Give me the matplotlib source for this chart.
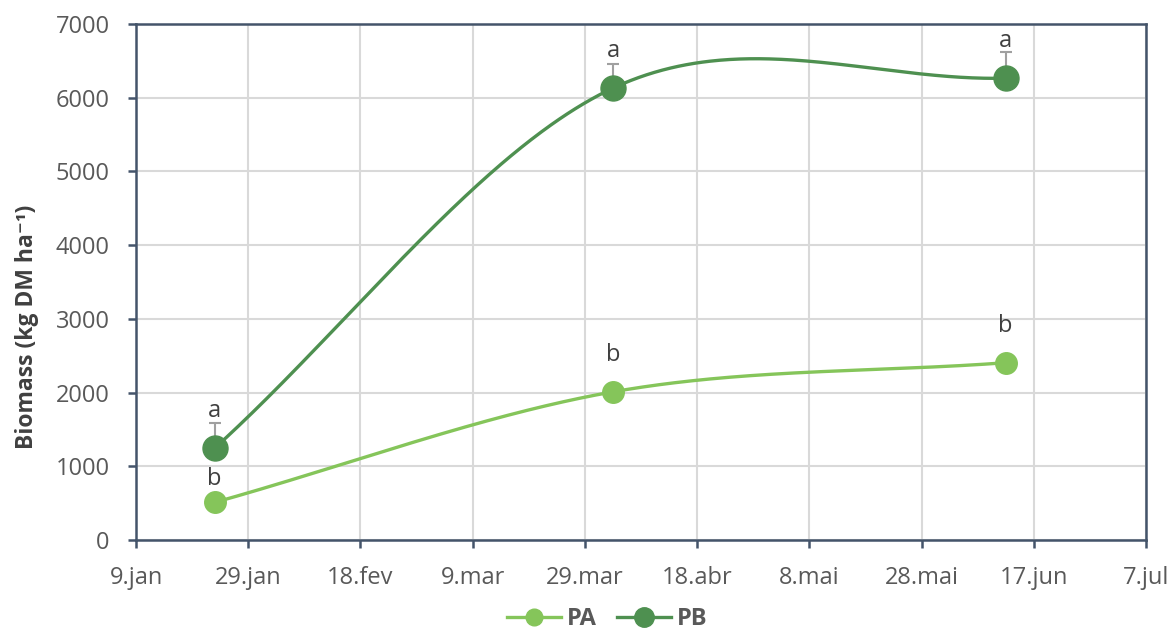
import matplotlib
matplotlib.use("Agg")
import matplotlib.pyplot as plt
import matplotlib.dates as mdates
import numpy as np
from datetime import date, timedelta
from matplotlib.lines import Line2D

# ---------------- data ----------------
sample_dates = [date(2020, 1, 23), date(2020, 4, 3), date(2020, 6, 12)]
pa_values = [510, 2010, 2405]
pb_values = [1245, 6130, 6265]
pb_err_up = [340, 325, 350]
pa_letters = ["b", "b", "b"]
pb_letters = ["a", "a", "a"]
tick_dates = [date(2020, 1, 9) + timedelta(days=20 * i) for i in range(10)]
tick_labels = ["9.jan", "29.jan", "18.fev", "9.mar", "29.mar",
               "18.abr", "8.mai", "28.mai", "17.jun", "7.jul"]
y_ticks = [0, 1000, 2000, 3000, 4000, 5000, 6000, 7000]
series_names = ["PA", "PB"]
y_title = "Biomass (kg DM ha\u207b\u00b9)"

# ---------------- style ----------------
plt.rcParams['font.family'] = ['Open Sans', 'DejaVu Sans']
C_PA = "#85C55A"
C_PB = "#4E9050"
C_AX = "#44546A"
C_TXT = "#595959"
C_GRID = "#D9D9D9"

W_PX, H_PX = 1174, 630
fig = plt.figure(figsize=(W_PX / 100, H_PX / 100), dpi=100)
L, R, T, B = 136, 1146, 24, 540
ax = fig.add_axes([L / W_PX, 1 - B / H_PX, (R - L) / W_PX, (B - T) / H_PX])

x0 = mdates.date2num(tick_dates[0])
x1 = mdates.date2num(tick_dates[-1])
y0, y1 = y_ticks[0], y_ticks[-1]
ax.set_xlim(x0, x1)
ax.set_ylim(y0, y1)
AW, AH = R - L, B - T


def excel_smooth(xd, yd, n=200):
    # Bezier smoothing similar to spreadsheet "smoothed line", done in pixel space
    px = (np.asarray(xd) - x0) / (x1 - x0) * AW
    py = (np.asarray(yd) - y0) / (y1 - y0) * AH
    P = np.column_stack([px, py])
    ext = np.vstack([2 * P[0] - P[1], P, 2 * P[-1] - P[-2]])
    out = []
    t = np.linspace(0, 1, n)[:, None]
    for i in range(len(P) - 1):
        p0, p3 = P[i], P[i + 1]
        c1 = p0 + (ext[i + 2] - ext[i]) / 6.0
        c2 = p3 - (ext[i + 3] - ext[i + 1]) / 6.0
        seg = ((1 - t) ** 3) * p0 + 3 * ((1 - t) ** 2) * t * c1 + 3 * (1 - t) * t ** 2 * c2 + t ** 3 * p3
        out.append(seg)
    out = np.vstack(out)
    xs = out[:, 0] / AW * (x1 - x0) + x0
    ys = out[:, 1] / AH * (y1 - y0) + y0
    return xs, ys


xnum = mdates.date2num(sample_dates)

# grid
ax.set_axisbelow(True)
ax.grid(True, color=C_GRID, linewidth=1.5)

# smoothed lines
xs, ys = excel_smooth(xnum, pa_values)
ax.plot(xs, ys, color=C_PA, lw=2.4, zorder=3, solid_capstyle='round')
xs, ys = excel_smooth(xnum, pb_values)
ax.plot(xs, ys, color=C_PB, lw=2.4, zorder=3, solid_capstyle='round')

# error bars (upper only)
ax.errorbar(xnum, pb_values, yerr=[np.zeros(len(pb_values)), pb_err_up], fmt='none',
            ecolor="#A0A0A0", elinewidth=1.5, capsize=4, capthick=1.5, zorder=2.5)

# markers
ax.plot(xnum, pa_values, 'o', color=C_PA, ms=15.5, zorder=4)
ax.plot(xnum, pb_values, 'o', color=C_PB, ms=18, zorder=4)

# letters
pa_off = [12.5, 22, 22]
for xv, yv, s, o in zip(xnum, pa_values, pa_letters, pa_off):
    ax.annotate(s, (xv, yv), xytext=(0, o), textcoords='offset points',
                ha='center', va='baseline', fontsize=17, color="#404040", zorder=5)
for xv, yv, s in zip(xnum, pb_values, pb_letters):
    ax.annotate(s, (xv, yv), xytext=(0, 22.5), textcoords='offset points',
                ha='center', va='baseline', fontsize=17, color="#404040", zorder=5)

# axes
ax.set_xticks(mdates.date2num(tick_dates))
ax.set_xticklabels(tick_labels)
ax.set_yticks(y_ticks)
ax.set_yticklabels([str(v) for v in y_ticks])
for sp in ax.spines.values():
    sp.set_color(C_AX)
    sp.set_linewidth(1.8)
ax.tick_params(axis='both', colors=C_AX, labelcolor=C_TXT, labelsize=17,
               length=6, width=1.8, direction='out')
ax.tick_params(axis='x', pad=13)
ax.tick_params(axis='y', pad=13)

fig.text(27 / W_PX, 1 - 327 / H_PX, y_title, rotation=90, ha='center', va='center',
         fontsize=16.5, fontweight='bold', color="#404040")

# legend
handles = [Line2D([], [], color=C_PA, lw=2.4, marker='o', ms=12),
           Line2D([], [], color=C_PB, lw=2.4, marker='o', ms=14)]
leg = fig.legend(handles, series_names, loc='center', bbox_to_anchor=(607 / W_PX, 1 - 619 / H_PX),
                 ncol=2, frameon=False, handlelength=2.3, columnspacing=0.85, handletextpad=0.25,
                 borderpad=0.1, prop={'weight': 'bold', 'size': 17})
for t in leg.get_texts():
    t.set_color(C_TXT)

fig.savefig("out.png", dpi=100)
